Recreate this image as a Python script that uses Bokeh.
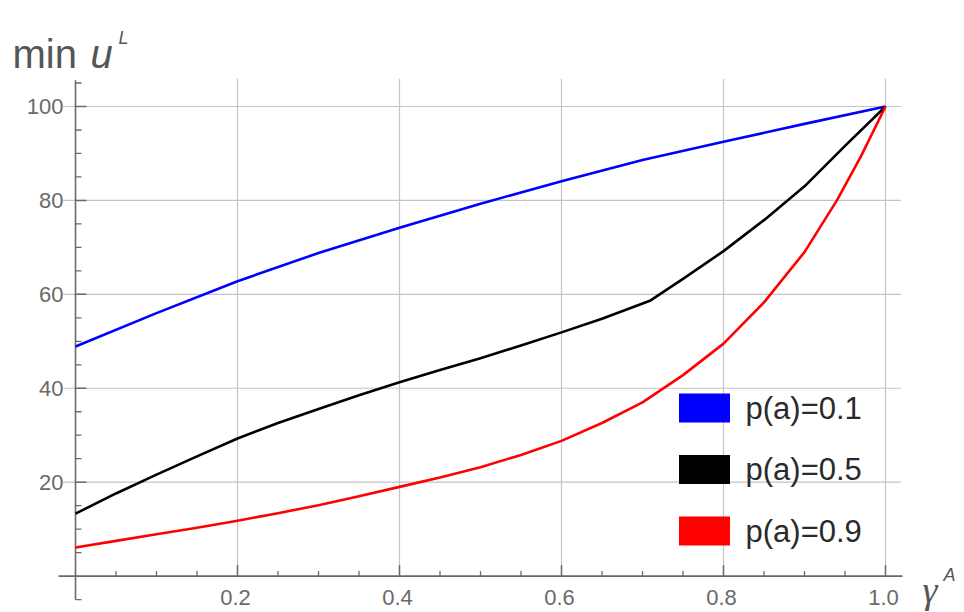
import numpy as np
from bokeh.plotting import figure
from bokeh.models import Range1d
from bokeh.embed import file_html
from bokeh.resources import INLINE
from bokeh.core.properties import value

# ---------------- data ----------------
gamma_p01 = [0.0, 0.1, 0.2, 0.3, 0.4, 0.5, 0.6, 0.7, 0.8, 0.9, 1.0]
minu_p01 = [48.9, 56.0, 62.8, 68.8, 74.2, 79.3, 84.1, 88.6, 92.5, 96.3, 100.0]

gamma_p05 = [0.0, 0.05, 0.1, 0.15, 0.2, 0.25, 0.3, 0.35, 0.4, 0.45, 0.5,
             0.55, 0.6, 0.65, 0.71, 0.75, 0.8, 0.85, 0.9, 0.95, 1.0]
minu_p05 = [13.3, 17.6, 21.6, 25.5, 29.3, 32.6, 35.6, 38.5, 41.3, 43.9, 46.4,
            49.1, 51.9, 54.8, 58.7, 63.3, 69.2, 75.8, 83.0, 91.6, 100.0]

gamma_p09 = [0.0, 0.05, 0.1, 0.15, 0.2, 0.25, 0.3, 0.35, 0.4, 0.45, 0.5, 0.55, 0.6,
             0.65, 0.7, 0.75, 0.8, 0.85, 0.9, 0.94, 0.97, 1.0]
minu_p09 = [6.1, 7.5, 8.9, 10.3, 11.8, 13.4, 15.1, 17.0, 19.0, 21.0, 23.2, 25.8, 28.8,
            32.6, 37.0, 42.8, 49.5, 58.3, 69.0, 80.0, 89.5, 100.0]

series_labels = ["p(a)=0.1", "p(a)=0.5", "p(a)=0.9"]
series_colors = ["#0000ff", "#000000", "#ff0000"]

x_major_ticks = [0.2, 0.4, 0.6, 0.8, 1.0]
x_tick_labels = ["0.2", "0.4", "0.6", "0.8", "1.0"]
x_minor_ticks = [0.05, 0.1, 0.15, 0.25, 0.3, 0.35, 0.45, 0.5, 0.55,
                 0.65, 0.7, 0.75, 0.85, 0.9, 0.95]
y_major_ticks = [20, 40, 60, 80, 100]
y_tick_labels = ["20", "40", "60", "80", "100"]
y_minor_ticks = [-5, 5, 10, 15, 25, 30, 35, 45, 50, 55, 65, 70, 75, 85, 90, 95, 105]

# ---------------- layout helpers (screen <-> data) ----------------
W, H = 964, 612
X0_PX, PX_PER_X = 75.0, 810.0       # screen x of gamma=0, pixels per unit
Y0_PX, PX_PER_Y = 575.6, 4.696      # screen y of u=0, pixels per unit


def sx2x(sx):
    return (sx - X0_PX) / PX_PER_X


def sy2y(sy):
    return (Y0_PX - sy) / PX_PER_Y


x_start, x_end = sx2x(0), sx2x(W)
y_end, y_start = sy2y(0), sy2y(H)

p = figure(width=W, height=H, x_range=Range1d(x_start, x_end),
           y_range=Range1d(y_start, y_end), output_backend="svg",
           toolbar_location=None, x_axis_location=None, y_axis_location=None,
           min_border=0)
p.grid.visible = False
p.outline_line_color = None
p.background_fill_color = "white"
p.border_fill_color = "white"

FONT = value("Liberation Sans")
SERIF = value("Liberation Serif")
GRID_COLOR = "#c4c4c4"
AXIS_COLOR = "#6a6a6a"
LABEL_COLOR = "#6a6a6a"

x_axis_lo, x_axis_hi = -0.021, 1.021
y_axis_lo, y_axis_hi = -5.0, 105.6
grid_top = 105.9
hgrid_lo, hgrid_hi = -0.015, 1.019

# gridlines
p.segment(x0=x_major_ticks, y0=[0] * len(x_major_ticks), x1=x_major_ticks,
          y1=[grid_top] * len(x_major_ticks), line_color=GRID_COLOR, line_width=1.2)
p.segment(x0=[hgrid_lo] * len(y_major_ticks), y0=y_major_ticks,
          x1=[hgrid_hi] * len(y_major_ticks), y1=y_major_ticks,
          line_color=GRID_COLOR, line_width=1.2)

# axes lines
p.segment(x0=[x_axis_lo], y0=[0], x1=[x_axis_hi], y1=[0], line_color=AXIS_COLOR, line_width=1.6)
p.segment(x0=[0], y0=[y_axis_lo], x1=[0], y1=[y_axis_hi], line_color=AXIS_COLOR, line_width=1.6)

# ticks (inward, screen lengths)
p.ray(x=x_major_ticks, y=[0] * len(x_major_ticks), length=11, length_units="screen",
      angle=np.pi / 2, line_color=AXIS_COLOR, line_width=1.5)
p.ray(x=x_minor_ticks, y=[0] * len(x_minor_ticks), length=5, length_units="screen",
      angle=np.pi / 2, line_color=AXIS_COLOR, line_width=1.3)
p.ray(x=[0] * len(y_major_ticks), y=y_major_ticks, length=11, length_units="screen",
      angle=0, line_color=AXIS_COLOR, line_width=1.5)
p.ray(x=[0] * len(y_minor_ticks), y=y_minor_ticks, length=6, length_units="screen",
      angle=0, line_color=AXIS_COLOR, line_width=1.3)

# tick labels
p.text(x=x_major_ticks, y=[0] * len(x_major_ticks), text=x_tick_labels,
       text_align="center", text_baseline="middle", x_offset=-2, y_offset=21,
       text_font=FONT, text_font_size=value("22px"), text_color=LABEL_COLOR)
p.text(x=[0] * len(y_major_ticks), y=y_major_ticks, text=y_tick_labels,
       text_align="right", text_baseline="middle", x_offset=-12, y_offset=0,
       text_font=FONT, text_font_size=value("22px"), text_color=LABEL_COLOR)

# curves
for gx, gy, col in [(gamma_p01, minu_p01, series_colors[0]),
                    (gamma_p05, minu_p05, series_colors[1]),
                    (gamma_p09, minu_p09, series_colors[2])]:
    p.line(gx, gy, line_color=col, line_width=2.6, line_join="round")

# axis titles
TITLE_COLOR = "#555555"
p.text(x=[sx2x(12)], y=[sy2y(53)], text=["min"], text_align="left",
       text_baseline="alphabetic", text_font=FONT, text_font_size=value("40px"),
       text_color=TITLE_COLOR)
p.text(x=[sx2x(90)], y=[sy2y(53)], text=["u"], text_align="left",
       text_baseline="alphabetic", text_font=FONT, text_font_size=value("40px"),
       text_font_style="italic", text_color=TITLE_COLOR)
p.text(x=[sx2x(118)], y=[sy2y(37)], text=["L"], text_align="left",
       text_baseline="alphabetic", text_font=FONT, text_font_size=value("18px"),
       text_font_style="italic", text_color=TITLE_COLOR)
p.text(x=[sx2x(922)], y=[sy2y(589)], text=["γ"], text_align="left",
       text_baseline="alphabetic", text_font=SERIF, text_font_size=value("38px"),
       text_font_style="italic", text_color=TITLE_COLOR)
p.text(x=[sx2x(943)], y=[sy2y(574)], text=["A"], text_align="left",
       text_baseline="alphabetic", text_font=FONT, text_font_size=value("18px"),
       text_font_style="italic", text_color=TITLE_COLOR)

# legend (manual, Mathematica style)
leg_cx = sx2x(704)
leg_cy_px = [407.5 + 61.5 * i for i in range(len(series_labels))]
leg_cy = [sy2y(v) for v in leg_cy_px]
p.rect(x=[leg_cx] * 3, y=leg_cy, width=51, height=29, width_units="screen",
       height_units="screen", fill_color=series_colors, line_color=None)
p.text(x=[sx2x(745)] * 3, y=leg_cy, text=series_labels, text_align="left",
       text_baseline="middle", text_font=FONT, text_font_size=value("31px"),
       text_color="#2a2a2a")

open("out.html", "w").write(file_html(p, INLINE))
